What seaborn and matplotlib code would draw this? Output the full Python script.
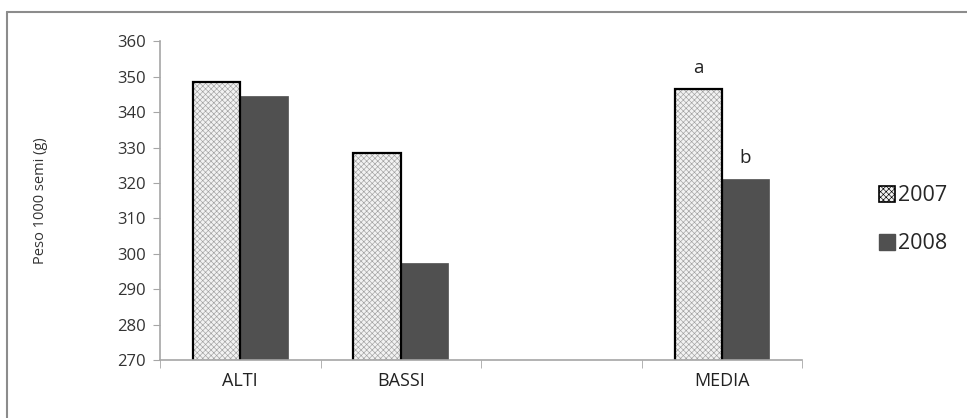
import matplotlib
matplotlib.use("Agg")
import matplotlib.pyplot as plt
import matplotlib.patches as mpatches
from matplotlib.lines import Line2D
import numpy as np
import pandas as pd
import seaborn as sns

# data
categories = ["ALTI", "BASSI", " ", "MEDIA"]
years = ["2007", "2008"]
values_2007 = [348.5, 328.5, np.nan, 346.5]
values_2008 = [344.5, 297.5, np.nan, 321.0]
letters_2007 = ["", "", "", "a"]
letters_2008 = ["", "", "", "b"]
y_ticks = list(range(270, 361, 10))

df = pd.DataFrame({
    "categoria": categories * 2,
    "anno": [years[0]] * 4 + [years[1]] * 4,
    "peso": values_2007 + values_2008,
}).dropna()

sns.set_style("white")
plt.rcParams["font.family"] = ["Open Sans", "DejaVu Sans"]
plt.rcParams["hatch.linewidth"] = 0.45

light = "#f2f2f2"
dark = "#505050"
axis_col = "#a6a6a6"

fig = plt.figure(figsize=(9.67, 4.18), dpi=100)
ax = fig.add_axes([0.1655, 0.139, 0.664, 0.762])

sns.barplot(data=df, x="categoria", y="peso", hue="anno", order=categories,
            hue_order=years, palette=[light, dark], width=0.59, gap=0,
            saturation=1, legend=False, ax=ax)

# style the bars: dotted 2007 with black outline, plain dark 2008
bars_2007, bars_2008 = ax.containers[0], ax.containers[1]
for p in bars_2007:
    p.set_hatch("xxxxxx")
    p.set_edgecolor("#a0a0a0")
    p.set_linewidth(0)
    outline = mpatches.Rectangle(p.get_xy(), p.get_width(), p.get_height(),
                                 fill=False, edgecolor="black", linewidth=1.6,
                                 zorder=p.get_zorder() + 1)
    ax.add_patch(outline)
for p in bars_2008:
    p.set_edgecolor(dark)
    p.set_linewidth(0.5)

# letters above the MEDIA bars
for bars, vals, letters in ((bars_2007, values_2007, letters_2007),
                            (bars_2008, values_2008, letters_2008)):
    present = [i for i, v in enumerate(vals) if not np.isnan(v)]
    for p, i in zip(bars, present):
        if letters[i]:
            ax.text(p.get_x() + p.get_width() / 2, vals[i] + 3.5, letters[i],
                    ha="center", va="bottom", fontsize=13.5, color="#222222")

ax.set_ylim(270, 360)
ax.set_xlim(-0.5, len(categories) - 0.5)
ax.set_yticks(y_ticks)
ax.set_xlabel("")
ax.set_ylabel("Peso 1000 semi (g)", fontsize=10.5, color="#333333", labelpad=50)

for s in ("top", "right"):
    ax.spines[s].set_visible(False)
for s in ("left", "bottom"):
    ax.spines[s].set_color(axis_col)
    ax.spines[s].set_linewidth(1.2)

ax.tick_params(axis="y", length=5, color=axis_col, labelsize=12,
               labelcolor="#333333", pad=5, left=True)
ax.tick_params(axis="x", which="major", length=0, labelsize=13,
               labelcolor="#222222", pad=9)
ax.set_xticks(np.arange(-0.5, len(categories) + 0.5, 1.0), minor=True)
ax.tick_params(axis="x", which="minor", length=6, color=axis_col, bottom=True)

handles = [
    mpatches.Patch(facecolor=light, edgecolor="black", hatch="xxxxxx", linewidth=1.2),
    mpatches.Patch(facecolor=dark, edgecolor=dark),
]
fig.legend(handles, years, loc="center left", bbox_to_anchor=(0.9, 0.474),
           frameon=False, fontsize=15.5, handlelength=0.75, handleheight=0.75,
           handletextpad=0.15, labelspacing=1.25, borderaxespad=0)

# outer frame (only left and top edges fall inside the picture)
fig.add_artist(Line2D([0.0072, 0.0072], [0.0, 0.971], transform=fig.transFigure,
                      color="#8c8c8c", linewidth=1.5))
fig.add_artist(Line2D([0.0072, 1.0], [0.971, 0.971], transform=fig.transFigure,
                      color="#8c8c8c", linewidth=1.5))

fig.savefig("out.png", dpi=100)
